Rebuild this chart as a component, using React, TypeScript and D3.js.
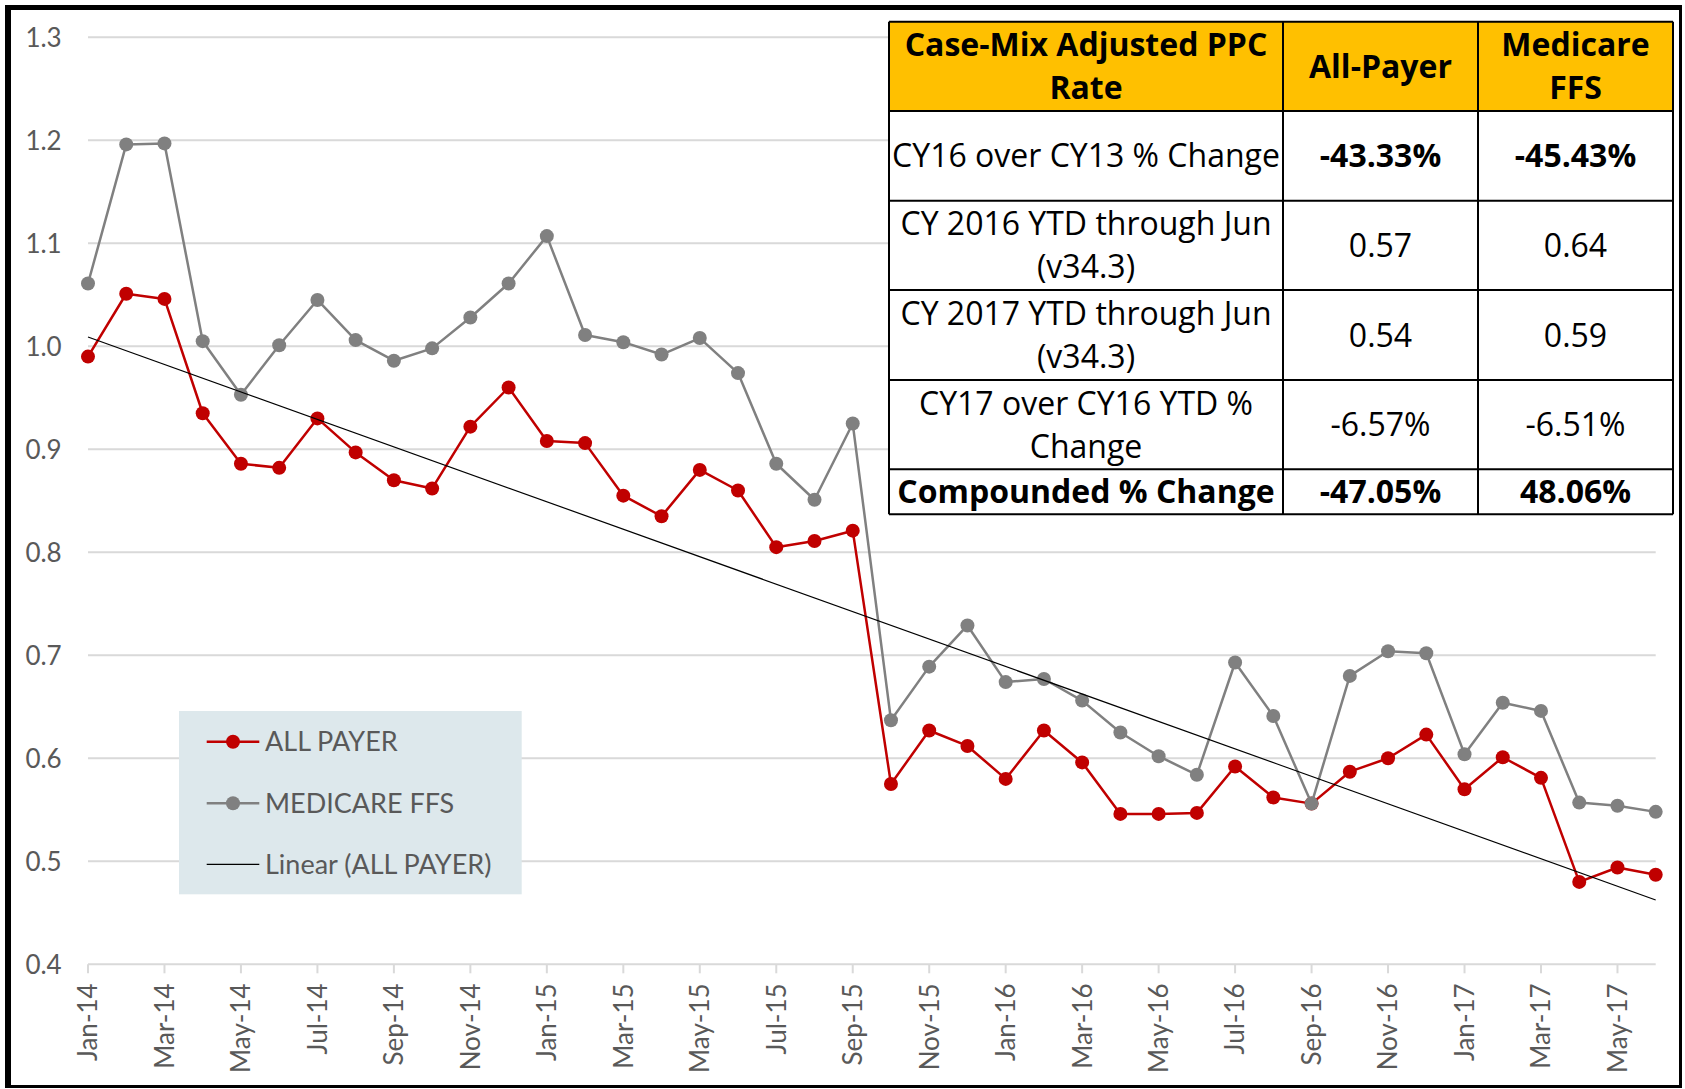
import React, { useEffect, useRef } from 'react';
import * as d3 from 'd3';

const months = [
  "Jan-14", "Feb-14", "Mar-14", "Apr-14", "May-14", "Jun-14", "Jul-14", "Aug-14", "Sep-14", "Oct-14", "Nov-14", "Dec-14",
  "Jan-15", "Feb-15", "Mar-15", "Apr-15", "May-15", "Jun-15", "Jul-15", "Aug-15", "Sep-15", "Oct-15", "Nov-15", "Dec-15",
  "Jan-16", "Feb-16", "Mar-16", "Apr-16", "May-16", "Jun-16", "Jul-16", "Aug-16", "Sep-16", "Oct-16", "Nov-16", "Dec-16",
  "Jan-17", "Feb-17", "Mar-17", "Apr-17", "May-17", "Jun-17",
];

const allPayer = [
  0.990, 1.051, 1.046, 0.935, 0.886, 0.882, 0.930, 0.897, 0.870, 0.862, 0.922, 0.960,
  0.908, 0.906, 0.855, 0.835, 0.880, 0.860, 0.805, 0.811, 0.821, 0.575, 0.627, 0.612,
  0.580, 0.627, 0.596, 0.546, 0.546, 0.547, 0.592, 0.562, 0.556, 0.587, 0.600, 0.623,
  0.570, 0.601, 0.581, 0.480, 0.494, 0.487,
];

const medicareFFS = [
  1.061, 1.196, 1.197, 1.005, 0.953, 1.001, 1.045, 1.006, 0.986, 0.998, 1.028, 1.061,
  1.107, 1.011, 1.004, 0.992, 1.008, 0.974, 0.886, 0.851, 0.925, 0.637, 0.689, 0.729,
  0.674, 0.677, 0.656, 0.625, 0.602, 0.584, 0.693, 0.641, 0.556, 0.680, 0.704, 0.702,
  0.604, 0.654, 0.646, 0.557, 0.554, 0.548,
];

const yTicks = [0.4, 0.5, 0.6, 0.7, 0.8, 0.9, 1.0, 1.1, 1.2, 1.3];

const legendLabels = ["ALL PAYER", "MEDICARE FFS", "Linear (ALL PAYER)"];

const tableHeader = [["Case-Mix Adjusted PPC", "Rate"], ["All-Payer"], ["Medicare", "FFS"]];
const tableRowLabels = [
  ["CY16 over CY13 % Change"],
  ["CY 2016 YTD through Jun", "(v34.3)"],
  ["CY 2017 YTD through Jun", "(v34.3)"],
  ["CY17 over CY16 YTD %", "Change"],
  ["Compounded % Change"],
];
const tableAllPayer = ["-43.33%", "0.57", "0.54", "-6.57%", "-47.05%"];
const tableMedicare = ["-45.43%", "0.64", "0.59", "-6.51%", "48.06%"];
const boldLabelRows = [false, false, false, false, true];
const boldValueRows = [true, false, false, false, true];

const RED = "#c00000";
const GREY = "#808080";
const AXIS_TEXT = "#595959";
const GRID = "#d9d9d9";
const AXIS_FONT = "Lato, 'Open Sans', sans-serif";
const TABLE_FONT = "'Open Sans', sans-serif";

const App: React.FC = () => {
  const svgRef = useRef<SVGSVGElement>(null);

  useEffect(() => {
    if (!svgRef.current) return;
    const svg = d3.select(svgRef.current);
    svg.selectAll("*").remove();

    const width = 1685;
    const height = 1089;

    svg.append("rect").attr("width", width).attr("height", height).attr("fill", "white");

    const x = d3.scalePoint<string>().domain(months).range([88, 1655.7]);
    const y = d3.scaleLinear().domain([0.4, 1.3]).range([964.3, 37.3]);

    // gridlines
    svg.append("g")
      .selectAll("line")
      .data(yTicks.filter(t => t > 0.4))
      .join("line")
      .attr("x1", x.range()[0])
      .attr("x2", x.range()[1])
      .attr("y1", d => y(d))
      .attr("y2", d => y(d))
      .attr("stroke", GRID)
      .attr("stroke-width", 2);

    // y labels
    svg.append("g")
      .selectAll("text")
      .data(yTicks)
      .join("text")
      .attr("x", 61.7)
      .attr("y", d => y(d))
      .attr("dy", "0.36em")
      .attr("text-anchor", "end")
      .attr("font-family", AXIS_FONT)
      .attr("font-size", 26)
      .attr("fill", AXIS_TEXT)
      .text(d => d3.format(".1f")(d));

    // x axis, labels every other month
    const labelled = months.filter((_, i) => i % 2 === 0);
    const xAxis = svg.append("g").attr("transform", `translate(0,${y(0.4)})`);
    xAxis.append("line")
      .attr("x1", x.range()[0])
      .attr("x2", x.range()[1])
      .attr("stroke", GRID)
      .attr("stroke-width", 2);
    xAxis.selectAll("line.tick")
      .data(labelled)
      .join("line")
      .attr("class", "tick")
      .attr("x1", d => x(d)!)
      .attr("x2", d => x(d)!)
      .attr("y1", 0)
      .attr("y2", 9)
      .attr("stroke", GRID)
      .attr("stroke-width", 2);
    xAxis.selectAll("text")
      .data(labelled)
      .join("text")
      .attr("transform", d => `translate(${x(d)},19) rotate(-90)`)
      .attr("dy", "0.36em")
      .attr("text-anchor", "end")
      .attr("font-family", AXIS_FONT)
      .attr("font-size", 26)
      .attr("fill", AXIS_TEXT)
      .text(d => d);

    // series
    const line = d3.line<number>()
      .x((_, i) => x(months[i])!)
      .y(d => y(d));

    const drawSeries = (values: number[], color: string) => {
      svg.append("path")
        .datum(values)
        .attr("d", line)
        .attr("fill", "none")
        .attr("stroke", color)
        .attr("stroke-width", 2.5)
        .attr("stroke-linejoin", "round");
      svg.append("g")
        .selectAll("circle")
        .data(values)
        .join("circle")
        .attr("cx", (_, i) => x(months[i])!)
        .attr("cy", d => y(d))
        .attr("r", 7)
        .attr("fill", color);
    };
    drawSeries(allPayer, RED);
    drawSeries(medicareFFS, GREY);

    // linear trend of all payer (least squares)
    const n = allPayer.length;
    const idx = d3.range(n);
    const mx = d3.mean(idx)!;
    const my = d3.mean(allPayer)!;
    const sxy = d3.sum(idx, i => (i - mx) * (allPayer[i] - my));
    const sxx = d3.sum(idx, i => (i - mx) * (i - mx));
    const slope = sxy / sxx;
    const intercept = my - slope * mx;
    svg.append("line")
      .attr("x1", x(months[0])!)
      .attr("y1", y(intercept))
      .attr("x2", x(months[n - 1])!)
      .attr("y2", y(intercept + slope * (n - 1)))
      .attr("stroke", "black")
      .attr("stroke-width", 1.2);

    // legend
    const legend = svg.append("g");
    legend.append("rect")
      .attr("x", 179).attr("y", 711)
      .attr("width", 342.7).attr("height", 183.3)
      .attr("fill", "#dde8ec");
    const legendY = [741.7, 803.3, 864.3];
    const legendColors = [RED, GREY, "black"];
    legendLabels.forEach((label, i) => {
      const g = legend.append("g").attr("transform", `translate(0,${legendY[i]})`);
      g.append("line")
        .attr("x1", 206.7).attr("x2", 259.3)
        .attr("stroke", legendColors[i])
        .attr("stroke-width", i < 2 ? 2.5 : 1.2);
      if (i < 2) {
        g.append("circle").attr("cx", 233).attr("r", 7).attr("fill", legendColors[i]);
      }
      g.append("text")
        .attr("x", 265)
        .attr("dy", "0.36em")
        .attr("font-family", AXIS_FONT)
        .attr("font-size", 27)
        .attr("fill", AXIS_TEXT)
        .text(label);
    });

    // table
    const cols = [889, 1283, 1478, 1673];
    const rows = [21.7, 111, 200.7, 290, 380, 469.3, 514.3];
    const table = svg.append("g");
    const lineGap = 43;

    const cellText = (lines: string[], col: number, row: number, bold: boolean) => {
      const cx = (cols[col] + cols[col + 1]) / 2;
      const cy = (rows[row] + rows[row + 1]) / 2;
      lines.forEach((t, k) => {
        const ly = cy + (k - (lines.length - 1) / 2) * lineGap;
        table.append("text")
          .attr("x", cx)
          .attr("y", ly + 11.5)
          .attr("text-anchor", "middle")
          .attr("font-family", TABLE_FONT)
          .attr("font-size", 32)
          .attr("font-weight", bold ? "bold" : "normal")
          .attr("fill", "black")
          .text(t);
      });
    };

    table.append("rect")
      .attr("x", cols[0]).attr("y", rows[0])
      .attr("width", cols[3] - cols[0]).attr("height", rows[6] - rows[0])
      .attr("fill", "white");
    table.append("rect")
      .attr("x", cols[0]).attr("y", rows[0])
      .attr("width", cols[3] - cols[0]).attr("height", rows[1] - rows[0])
      .attr("fill", "#ffc000");

    tableHeader.forEach((lines, c) => cellText(lines, c, 0, true));
    tableRowLabels.forEach((lines, r) => {
      cellText(lines, 0, r + 1, boldLabelRows[r]);
      cellText([tableAllPayer[r]], 1, r + 1, boldValueRows[r]);
      cellText([tableMedicare[r]], 2, r + 1, boldValueRows[r]);
    });

    table.selectAll("line.h")
      .data(rows)
      .join("line")
      .attr("class", "h")
      .attr("x1", cols[0]).attr("x2", cols[3])
      .attr("y1", d => d).attr("y2", d => d)
      .attr("stroke", "black").attr("stroke-width", 2);
    table.selectAll("line.v")
      .data(cols)
      .join("line")
      .attr("class", "v")
      .attr("x1", d => d).attr("x2", d => d)
      .attr("y1", rows[0]).attr("y2", rows[6])
      .attr("stroke", "black").attr("stroke-width", 2);

    // outer frame
    const frame = svg.append("g").attr("fill", "black");
    frame.append("rect").attr("x", 5).attr("y", 5).attr("width", 1677).attr("height", 5);
    frame.append("rect").attr("x", 5).attr("y", 5).attr("width", 6).attr("height", 1083);
    frame.append("rect").attr("x", 1679).attr("y", 5).attr("width", 3).attr("height", 1083);
    frame.append("rect").attr("x", 5).attr("y", 1085).attr("width", 1677).attr("height", 3);
  }, []);

  return (
    <svg
      ref={svgRef}
      width={1685}
      height={1089}
      style={{ position: "absolute", left: 0, top: 0, display: "block" }}
    />
  );
};

export default App;
